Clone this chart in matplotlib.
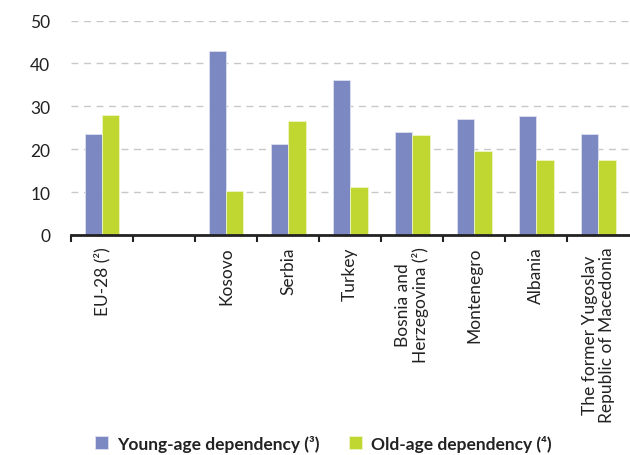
import numpy as np
import matplotlib
matplotlib.use('Agg')
import matplotlib.pyplot as plt

plt.rcParams['font.family'] = ['Lato', 'DejaVu Sans']

# Dữ liệu
categories = ['EU-28 (²)', '', 'Kosovo', 'Serbia', 'Turkey',
              'Bosnia and\nHerzegovina (²)', 'Montenegro', 'Albania',
              'The former Yugoslav\nRepublic of Macedonia']
young = [23.6, np.nan, 43.0, 21.1, 36.2, 24.1, 27.1, 27.7, 23.6]
old = [27.9, np.nan, 10.2, 26.5, 11.2, 23.3, 19.5, 17.4, 17.4]

blue = '#7b88c2'
green = '#bfd730'

fig = plt.figure(figsize=(6.3, 4.56), dpi=100)
ax = fig.add_axes([71 / 630, 1 - 236 / 456, 1 - 71 / 630, (236 - 21.5) / 456])

x = np.arange(len(categories))
w = 0.28
ax.bar(x - w / 2, young, width=w, color=blue, edgecolor='#dde0f0', linewidth=0.6,
       label='Young-age dependency (³)', zorder=3)
ax.bar(x + w / 2, old, width=w, color=green, edgecolor='#eef5c8', linewidth=0.6,
       label='Old-age dependency (⁴)', zorder=3)

ax.set_ylim(0, 50)
ax.set_xlim(-0.5, len(categories) - 0.49)
ax.set_yticks(range(0, 51, 10))
ax.yaxis.grid(True, linestyle=(0, (5, 4)), color='#c8c8c8', linewidth=1, zorder=0)
ax.tick_params(axis='y', length=0, pad=15, labelsize=12.5, labelcolor='#222222')

for s in ['top', 'right', 'left']:
    ax.spines[s].set_visible(False)
ax.spines['bottom'].set_linewidth(2)
ax.spines['bottom'].set_color('#222222')
ax.spines['bottom'].set_zorder(4)

ax.set_xticks(np.arange(-0.5, len(categories) - 0.5, 1))
ax.set_xticklabels([])
ax.tick_params(axis='x', which='major', length=5, width=1.5, color='#222222')
ax.set_xticks(x, minor=True)
ax.set_xticklabels(categories, minor=True, rotation=90, fontsize=12.5,
                   color='#222222', va='top', ha='center', linespacing=1.05)
ax.tick_params(axis='x', which='minor', length=0, pad=8)

leg = fig.legend(loc='center', bbox_to_anchor=(0.513, 0.026), ncol=2,
                 frameon=False, handlelength=0.75, handleheight=0.75,
                 columnspacing=1.7, handletextpad=0.5, borderpad=0,
                 prop={'weight': 'bold', 'size': 12.5})
for t in leg.get_texts():
    t.set_color('#222222')

fig.savefig('out.png', dpi=100)
